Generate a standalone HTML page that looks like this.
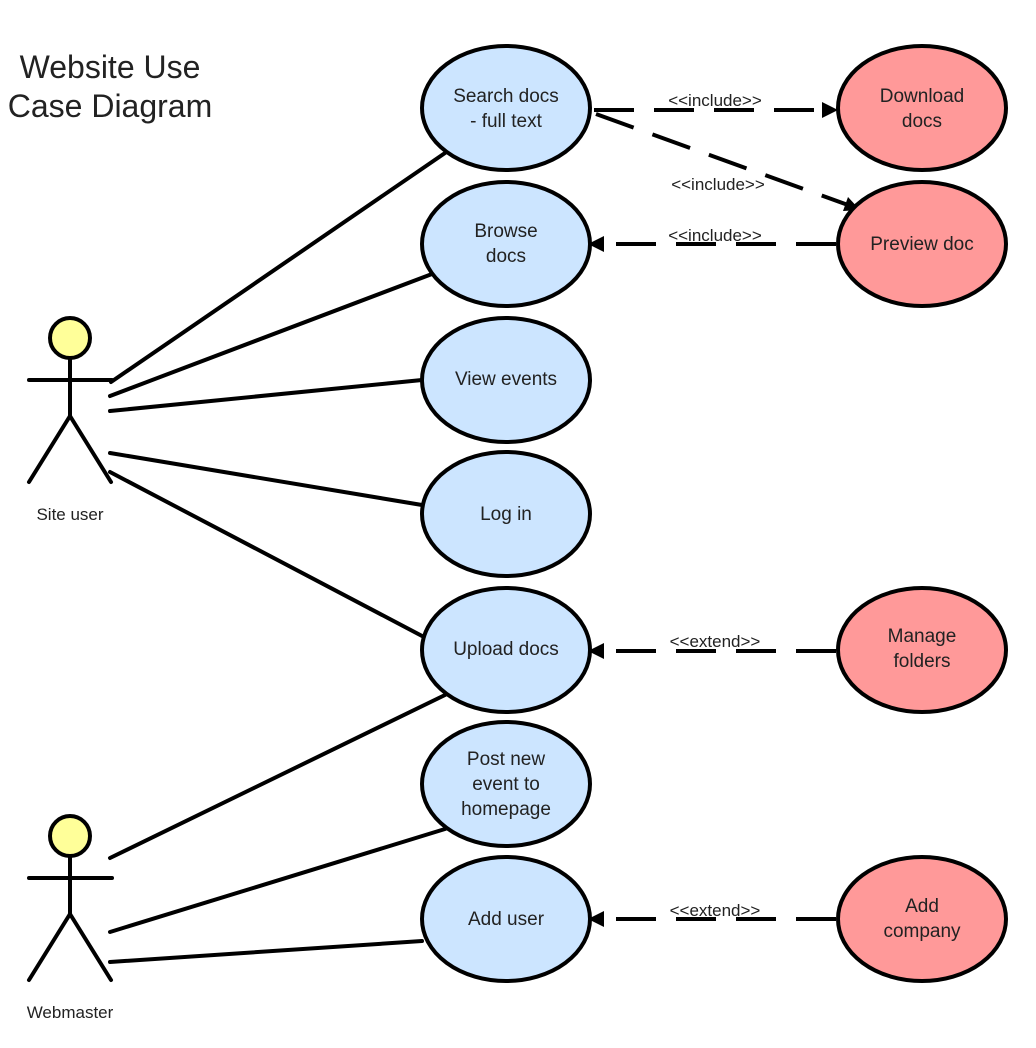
<!DOCTYPE html>
<html><head><meta charset="utf-8"><style>
html,body{margin:0;padding:0;background:#fff;}
svg{display:block;}
text{font-family:"Liberation Sans",Arial,sans-serif;fill:#222;}
</style></head><body>
<svg width="1036" height="1048" viewBox="0 0 1036 1048" xmlns="http://www.w3.org/2000/svg">
<text x="110" y="78" font-size="32" text-anchor="middle">Website Use</text>
<text x="110" y="117" font-size="32" text-anchor="middle">Case Diagram</text>

<g stroke="#000" stroke-width="4" stroke-linecap="round" fill="none">
<line x1="70" y1="359" x2="70" y2="416"/>
<line x1="29" y1="380" x2="112" y2="380"/>
<line x1="70" y1="416" x2="29" y2="482"/>
<line x1="70" y1="416" x2="111" y2="482"/>
<line x1="70" y1="857" x2="70" y2="914"/>
<line x1="29" y1="878" x2="112" y2="878"/>
<line x1="70" y1="914" x2="29" y2="980"/>
<line x1="70" y1="914" x2="111" y2="980"/>
<line x1="111" y1="382" x2="445" y2="153"/>
<line x1="110" y1="396" x2="432" y2="274"/>
<line x1="110" y1="411" x2="422" y2="380"/>
<line x1="110" y1="453" x2="422" y2="505"/>
<line x1="110" y1="472" x2="424" y2="637"/>
<line x1="110" y1="858" x2="445" y2="695"/>
<line x1="110" y1="932" x2="445" y2="829"/>
<line x1="110" y1="962" x2="422" y2="941"/>
</g>
<circle cx="70" cy="338" r="20" fill="#ffff99" stroke="#000" stroke-width="4"/>
<circle cx="70" cy="836" r="20" fill="#ffff99" stroke="#000" stroke-width="4"/>
<text x="70" y="520" font-size="17" text-anchor="middle">Site user</text>
<text x="70" y="1018" font-size="17" text-anchor="middle">Webmaster</text>

<g stroke="#000" stroke-width="4" fill="none" stroke-dasharray="40,20">
<line x1="594" y1="110" x2="824" y2="110"/>
<line x1="596" y1="114" x2="848" y2="205"/>
<line x1="836" y1="244" x2="600" y2="244"/>
<line x1="836" y1="651" x2="600" y2="651"/>
<line x1="836" y1="919" x2="600" y2="919"/>
</g>
<g fill="#000">
<polygon points="838,110 822,102 822,118"/>
<polygon points="860,210 843,211 848,197"/>
<polygon points="588,244 604,236 604,252"/>
<polygon points="588,651 604,643 604,659"/>
<polygon points="588,919 604,911 604,927"/>
</g>
<g font-size="17" text-anchor="middle">
<text x="715" y="106">&lt;&lt;include&gt;&gt;</text>
<text x="718" y="190">&lt;&lt;include&gt;&gt;</text>
<text x="715" y="241">&lt;&lt;include&gt;&gt;</text>
<text x="715" y="647">&lt;&lt;extend&gt;&gt;</text>
<text x="715" y="916">&lt;&lt;extend&gt;&gt;</text>
</g>

<g stroke="#000" stroke-width="4">
<ellipse cx="506" cy="108" rx="84" ry="62" fill="#cce5ff"/>
<ellipse cx="506" cy="244" rx="84" ry="62" fill="#cce5ff"/>
<ellipse cx="506" cy="380" rx="84" ry="62" fill="#cce5ff"/>
<ellipse cx="506" cy="514" rx="84" ry="62" fill="#cce5ff"/>
<ellipse cx="506" cy="650" rx="84" ry="62" fill="#cce5ff"/>
<ellipse cx="506" cy="784" rx="84" ry="62" fill="#cce5ff"/>
<ellipse cx="506" cy="919" rx="84" ry="62" fill="#cce5ff"/>
<ellipse cx="922" cy="108" rx="84" ry="62" fill="#ff9999"/>
<ellipse cx="922" cy="244" rx="84" ry="62" fill="#ff9999"/>
<ellipse cx="922" cy="650" rx="84" ry="62" fill="#ff9999"/>
<ellipse cx="922" cy="919" rx="84" ry="62" fill="#ff9999"/>
</g>
<g font-size="19" text-anchor="middle">
<text x="506" y="102">Search docs</text>
<text x="506" y="127">- full text</text>
<text x="506" y="237">Browse</text>
<text x="506" y="262">docs</text>
<text x="506" y="385">View events</text>
<text x="506" y="520">Log in</text>
<text x="506" y="655">Upload docs</text>
<text x="506" y="765">Post new</text>
<text x="506" y="790">event to</text>
<text x="506" y="815">homepage</text>
<text x="506" y="925">Add user</text>
<text x="922" y="102">Download</text>
<text x="922" y="127">docs</text>
<text x="922" y="250">Preview doc</text>
<text x="922" y="642">Manage</text>
<text x="922" y="667">folders</text>
<text x="922" y="912">Add</text>
<text x="922" y="937">company</text>
</g>
</svg>
</body></html>
